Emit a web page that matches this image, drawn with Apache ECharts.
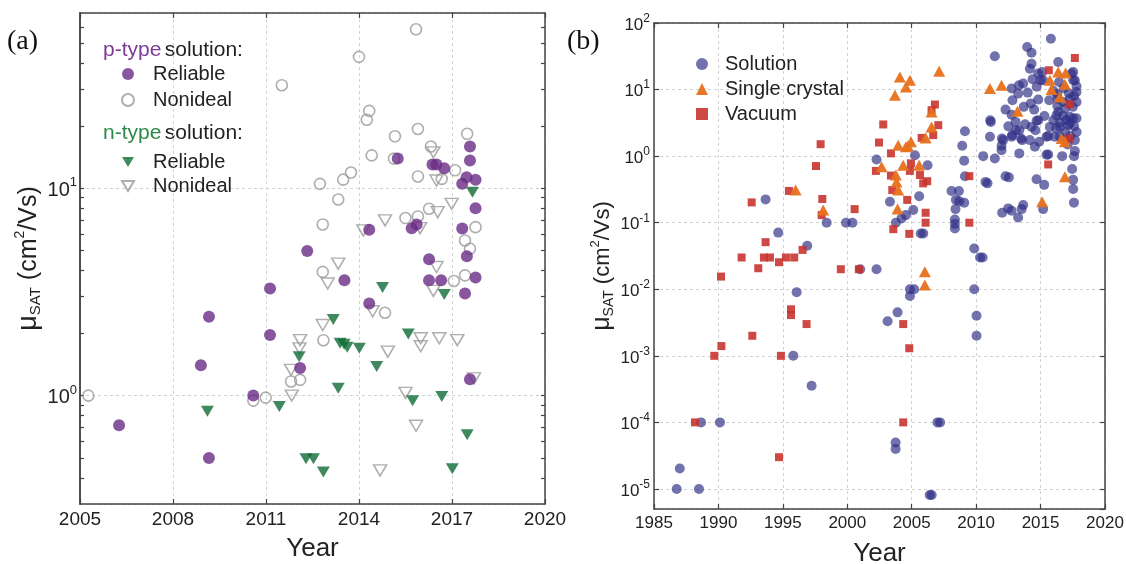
<!DOCTYPE html>
<html><head><meta charset="utf-8">
<script src="https://cdn.jsdelivr.net/npm/echarts@6/dist/echarts.min.js"></script>
<style>html,body{margin:0;padding:0;background:#fff}#c{width:1126px;height:564px}</style>
</head><body><div id="c"></div>
<script>
// ---------- Panel (a) data: [year, mobility cm2/Vs] ----------
const pReliable = [[2006.26,0.72],[2008.9,1.40],[2009.16,2.40],[2009.16,0.50],[2010.59,1.0],[2011.13,3.28],[2011.13,1.96],[2012.1,1.36],[2012.33,4.98],[2013.53,3.6],[2014.33,2.78],[2014.33,6.31],[2015.25,13.9],[2015.7,6.42],[2015.86,6.69],[2016.26,4.55],[2016.26,3.6],[2016.37,13.0],[2016.5,13.0],[2016.65,3.6],[2016.75,12.5],[2017.33,10.5],[2017.33,6.4],[2017.42,3.11],[2017.48,4.7],[2017.47,11.3],[2017.58,15.9],[2017.58,13.6],[2017.58,1.20],[2017.76,11.0],[2017.76,8.0],[2017.76,3.71]];
const pNonideal = [[2005.27,1.0],[2010.59,0.946],[2010.99,0.978],[2011.81,1.17],[2012.1,1.19],[2012.85,1.85],[2012.83,3.95],[2014.84,2.51],[2017.06,3.57],[2017.42,3.8],[2015.84,58.4],[2014.0,43.0],[2011.51,31.4],[2014.33,23.6],[2014.25,21.4],[2015.9,19.3],[2015.16,17.8],[2017.49,18.3],[2016.32,15.9],[2014.41,14.4],[2015.13,13.9],[2013.74,11.9],[2013.49,11.0],[2012.74,10.5],[2017.1,12.2],[2015.9,11.4],[2016.67,11.1],[2013.33,8.83],[2012.83,6.69],[2015.5,7.18],[2015.9,7.31],[2016.26,7.96],[2017.76,6.49],[2017.42,5.6],[2017.58,5.11]];
const nReliable = [[2009.11,0.84],[2011.43,0.885],[2012.07,1.54],[2013.17,2.33],[2013.33,1.085],[2013.39,1.79],[2013.52,1.77],[2013.62,1.71],[2014.01,1.69],[2014.57,1.38],[2014.76,3.32],[2015.59,1.98],[2015.73,0.943],[2016.67,0.99],[2016.75,3.07],[2017.49,0.647],[2017.01,0.444],[2012.29,0.496],[2012.53,0.496],[2012.85,0.428],[2017.66,9.57]];
const nNonideal = [[2016.4,14.9],[2016.5,10.9],[2016.99,8.41],[2016.54,7.67],[2014.84,7.0],[2014.14,6.26],[2015.97,6.42],[2013.33,4.33],[2016.5,4.17],[2012.99,3.47],[2016.4,3.2],[2014.44,2.55],[2012.83,2.19],[2012.1,1.85],[2012.08,1.69],[2011.81,1.33],[2011.83,1.0],[2014.93,1.63],[2015.99,1.89],[2015.99,1.73],[2016.59,1.89],[2017.17,1.85],[2015.5,1.03],[2015.84,0.715],[2014.68,0.436],[2017.71,1.21]];

// ---------- Panel (b) data ----------
const solution = [[1993.66,0.224],[1994.64,0.071],[1996.89,0.045],[1998.4,0.1],[1999.9,0.1],[2000.4,0.1],[1996.07,0.009],[1995.81,0.001],[1997.23,3.56e-4],[1988.65,1e-4],[1990.12,1e-4],[1987.0,2.03e-5],[1986.76,1e-5],[1988.49,1e-5],[2001.0,0.02],[2002.27,0.02],[2004.86,0.01],[2005.19,0.01],[2004.86,0.0079],[2003.9,0.0045],[2003.13,0.0033],[2009.85,0.01],[2010.03,0.004],[2010.03,0.002],[2007.0,1e-4],[2007.2,1e-4],[2003.75,5e-5],[2003.75,4e-5],[2006.4,8.1e-6],[2006.55,8.1e-6],[2010.3,0.030],[2010.5,0.030],[2009.85,0.041],
[2002.27,0.89],[2005.25,1.03],[2006.23,0.73],[2003.31,0.206],[2005.58,0.25],[2005.12,0.155],[2004.55,0.13],[2004.21,0.116],[2003.77,0.1],[2005.7,0.069],[2005.9,0.069],[2009.13,2.37],[2008.92,1.43],[2009.07,0.85],[2009.13,0.5],[2008.09,0.30],[2008.66,0.30],[2008.43,0.22],[2008.69,0.21],[2009.07,0.20],[2008.4,0.16],[2008.35,0.112],[2008.35,0.096],[2008.35,0.082],
[2011.45,31.6],[2013.96,43.5],[2014.3,35.8],[2015.8,58],[2016.37,25.9],[2014.3,24.5],[2014.17,20.6],[2015.12,18.4],[2017.53,18.4],[2014.38,14.3],[2013.65,12.3],[2015.2,13.8],[2016.44,13.0],[2017.66,13.8],[2012.75,10.4],[2013.32,11.6],[2017.79,11.2],[2013.26,8.7],[2012.82,6.9],[2014.25,6.2],[2014.82,7.1],[2015.67,6.9],[2016.32,7.3],[2017.27,7.3],[2017.79,9.2],[2017.79,6.5],[2012.28,5.0],[2012.75,4.2],[2016.24,4.1],[2016.75,4.0],[2017.79,3.7],[2011.14,3.27],[2013.06,3.27],[2014.69,3.4],[2014.3,2.75],[2016.5,3.16],[2017.27,3.1],[2013.35,2.45],[2012.8,2.07],[2011.07,1.95],[2012.1,1.74],[2013.57,1.74],[2014.17,1.74],[2014.9,1.64],[2015.59,2.0],[2016.1,1.95],[2017.66,1.74],[2011.97,1.43],[2011.97,1.23],[2017.66,1.19],[2010.55,1.0],[2011.45,0.92],[2013.35,1.1],[2015.59,1.06],[2016.68,1.0],[2017.45,0.64],[2012.28,0.5],[2012.54,0.48],[2014.69,0.45],[2015.28,0.37],[2017.53,0.44],[2017.53,0.32],[2017.59,0.20],[2010.73,0.41],[2010.88,0.39],[2012.02,0.141],[2012.49,0.164],[2012.75,0.151],[2013.26,0.12],[2013.53,0.16],[2013.65,0.184],[2015.2,0.16],
[2014.82,17.4],[2017.4,17.4],[2017.53,13.8],[2017.27,3.9],[2017.53,3.7],[2016.37,4.6],[2016.0,3.46],[2015.72,2.75],[2016.5,2.75],[2017.14,2.92],[2014.82,3.46],[2014.6,2.45],[2013.1,2.45],[2013.49,1.84],[2012.75,1.95],[2012.0,1.84],[2011.09,3.46],[2015.0,13.8],[2016.76,6.5],[2016.5,1.95],[2015.46,1.95],[2014.56,1.38],[2015.46,1.05],[2016.0,9.5],[2016.3,8.5],[2016.8,10.5],[2017.2,8.8],[2017.6,8.0],[2017.5,5.5],[2016.9,5.2],[2016.3,5.7],[2017.0,3.5],[2017.6,2.8],[2017.8,2.3],[2016.9,2.3],[2016.2,2.6],[2017.3,2.0],[2017.1,1.5],[2017.6,1.0],[2014.0,9.0],[2014.7,11.0],[2013.7,5.5],[2014.5,5.0],[2015.3,4.0],[2013.8,3.0],[2012.5,2.8]];
const singleCrystal = [[1995.99,0.31],[1998.13,0.155],[2006.02,0.0184],[2006.02,0.0116],[2004.08,15.5],[2004.86,13.8],[2004.55,10.9],[2003.7,8.2],[2007.13,18.8],[2006.54,4.6],[2006.54,2.75],[2006.08,1.88],[2004.94,1.64],[2003.95,1.46],[2004.55,1.38],[2004.7,1.42],[2002.66,0.69],[2004.34,0.73],[2005.58,0.73],[2003.77,0.52],[2003.82,0.41],[2003.95,0.31],[2003.9,0.16],[2011.07,10.4],[2011.97,11.6],[2013.21,4.73],[2016.37,18.4],[2016.94,17.7],[2015.72,13.8],[2016.89,12.0],[2015.85,10],[2016.5,7.75],[2016.63,1.84],[2016.89,1.64],[2016.89,0.49],[2015.12,0.206]];
const vacuum = [[1992.58,0.202],[1995.47,0.30],[1997.93,1.51],[1997.57,0.71],[1998.06,0.227],[1998.01,0.130],[1993.66,0.051],[1991.8,0.030],[1993.53,0.030],[1994.0,0.030],[1995.24,0.030],[1995.88,0.030],[1996.53,0.039],[1994.7,0.0255],[1993.09,0.0207],[1990.2,0.0155],[1999.5,0.02],[2000.9,0.02],[1995.63,0.005],[1995.63,0.0041],[1996.84,0.003],[1992.63,0.002],[1990.23,0.0014],[1989.68,0.001],[1994.85,0.001],[1988.18,0.0001],[1994.7,3e-5],[2004.34,0.003],[2004.81,0.0013],[2004.34,1e-4],
[2017.66,29.8],[2015.64,19.5],[2017.27,6.0],[2017.2,1.84],[2015.59,0.75],[2006.8,5.96],[2006.54,4.9],[2007.06,2.92],[2006.67,2.07],[2005.77,1.88],[2002.79,2.99],[2002.46,1.6],[2003.39,1.1],[2004.94,0.78],[2002.22,0.6],[2004.86,0.6],[2003.39,0.51],[2005.64,0.52],[2006.2,0.42],[2005.89,0.39],[2003.49,0.31],[2004.65,0.22],[2000.57,0.16],[2006.08,0.141],[2006.08,0.1],[2003.57,0.080],[2004.81,0.068],[2009.47,0.50],[2009.47,0.1]];

// ---------- Axis ticks ----------
const aYearTicks = {min: 2005, max: 2020, step: 3};
const bYearTicks = {min: 1985, max: 2020, step: 5};
const aYRange = [0.3, 70];
const bYRange = [5e-6, 100];
const aYMinorTicks = [0.4,0.5,0.6,0.7,0.8,0.9,1,2,3,4,5,6,7,8,9,10,20,30,40,50,60];

const FONT = '"Liberation Sans", Arial, sans-serif';
const SERIF = '"Liberation Serif", "DejaVu Serif", serif';
const AXC = '#444';
const DOWN = 'path://M0,0L20,0L10,17Z';

function logLabel(v){ const e = Math.round(Math.log10(v)); return '{b|10}{s|' + e + '}'; }
function richLab(fs, ss){ return { b:{fontSize:fs, fontFamily:FONT, color:'#222', lineHeight:fs+4, verticalAlign:'bottom'}, s:{fontSize:ss, fontFamily:FONT, color:'#222', verticalAlign:'top'} }; }
const split = {show:true, lineStyle:{color:'#d2d2d2', type:[3,3], width:1}};
const axLine = {show:true, onZero:false, lineStyle:{color:AXC, width:1.5}};

function xAx(grid, r, pos, fs, margin){
  return {type:'value', gridIndex:grid, min:r.min, max:r.max, interval:r.step, position:pos,
    axisLine:axLine, axisTick:{show:true, inside:true, length:5, lineStyle:{color:AXC, width:1.2}},
    axisLabel:{show:pos==='bottom', margin:margin, fontSize:fs, color:'#222', fontFamily:FONT, formatter:v=>String(v)},
    splitLine: pos==='bottom' ? split : {show:false}};
}
function yAx(grid, r, pos, opts){
  return Object.assign({type:'log', logBase:10, gridIndex:grid, min:r[0], max:r[1], position:pos,
    axisLine:axLine, axisTick:{show:true, inside:true, length:5, lineStyle:{color:AXC, width:1.2}},
    axisLabel:{show:false}, splitLine:{show:false}}, opts||{});
}
const minorTicks = {show:true, inside:true, length:4, customValues:aYMinorTicks, lineStyle:{color:AXC, width:1.2}};
const legText = {fontSize:20, fontFamily:FONT, color:'#222', lineHeight:20};

const chart = echarts.init(document.getElementById('c'), null, {renderer:'canvas'});
chart.setOption({
  animation:false,
  backgroundColor:'#fff',
  grid:[{left:80, top:13, width:465, height:491, outerBoundsMode:'none', containLabel:false},
        {left:654, top:23, width:451, height:486, outerBoundsMode:'none', containLabel:false}],
  xAxis:[
    Object.assign(xAx(0, aYearTicks, 'bottom', 19, 6), {name:'Year', nameLocation:'middle', nameGap:32, nameTextStyle:{fontSize:26, fontFamily:FONT, color:'#222'}}),
    xAx(0, aYearTicks, 'top', 19, 6),
    Object.assign(xAx(1, bYearTicks, 'bottom', 17, 6), {name:'Year', nameLocation:'middle', nameGap:32, nameTextStyle:{fontSize:26, fontFamily:FONT, color:'#222'}}),
    xAx(1, bYearTicks, 'top', 17, 5)
  ],
  yAxis:[
    yAx(0, aYRange, 'left', {
      axisTick:{show:false},
      axisLabel:{show:true, margin:3, formatter:logLabel, rich:richLab(20,13), showMinLabel:false, showMaxLabel:false},
      splitLine:split,
      name:'{m|μ}{sub|SAT}{t| (cm}{sup|2}{t|/Vs)}', nameLocation:'middle', nameGap:31,
      nameTextStyle:{rich:{m:{fontSize:27, fontFamily:FONT, color:'#222'}, sub:{fontSize:15, fontFamily:FONT, color:'#222', verticalAlign:'bottom'}, t:{fontSize:25, fontFamily:FONT, color:'#222', lineHeight:30}, sup:{fontSize:14, fontFamily:FONT, color:'#222', verticalAlign:'top'}}}
    }),
    yAx(0, aYRange, 'right', {axisTick:minorTicks}),
    yAx(1, bYRange, 'left', {
      axisLabel:{show:true, margin:4, formatter:logLabel, rich:richLab(17,12), showMinLabel:false, showMaxLabel:true},
      splitLine:split,
      name:'{m|μ}{sub|SAT}{t| (cm}{sup|2}{t|/Vs)}', nameLocation:'middle', nameGap:34,
      nameTextStyle:{rich:{m:{fontSize:25, fontFamily:FONT, color:'#222'}, sub:{fontSize:14, fontFamily:FONT, color:'#222', verticalAlign:'bottom'}, t:{fontSize:22, fontFamily:FONT, color:'#222', lineHeight:28}, sup:{fontSize:13, fontFamily:FONT, color:'#222', verticalAlign:'top'}}}
    }),
    yAx(1, bYRange, 'right'),
    yAx(0, aYRange, 'left', {axisTick:minorTicks})
  ],
  legend:[
    {data:['p|Reliable','p|Nonideal'], orient:'vertical', left:116, top:59, itemWidth:12, itemHeight:12, itemGap:6, selectedMode:false, symbolKeepAspect:true,
     formatter:n=>n.slice(2), textStyle:Object.assign({padding:[0,0,0,14]}, legText)},
    {data:['n|Reliable','n|Nonideal'], orient:'vertical', left:116, top:147, itemWidth:12, itemHeight:12, itemGap:4, selectedMode:false, symbolKeepAspect:true,
     formatter:n=>n.slice(2), textStyle:Object.assign({padding:[0,0,0,14]}, legText)},
    {data:['Solution','Single crystal','Vacuum'], orient:'vertical', left:691, top:49, itemWidth:12, itemHeight:12, itemGap:5, selectedMode:false, symbolKeepAspect:true,
     textStyle:Object.assign({padding:[0,0,0,12]}, legText)}
  ],
  graphic:[
    {type:'text', left:7, top:28, style:{text:'(a)', fontSize:28, fontFamily:SERIF, fill:'#111'}},
    {type:'text', left:567, top:28, style:{text:'(b)', fontSize:28, fontFamily:SERIF, fill:'#111'}},
    {type:'text', left:103, top:40, style:{text:'{p|p-type} {k|solution:}', rich:{p:{fill:'#7b3a96', fontSize:21, fontFamily:FONT}, k:{fill:'#222', fontSize:21, fontFamily:FONT}}}},
    {type:'text', left:103, top:123, style:{text:'{p|n-type} {k|solution:}', rich:{p:{fill:'#2b8a49', fontSize:21, fontFamily:FONT}, k:{fill:'#222', fontSize:21, fontFamily:FONT}}}}
  ],
  series:[
    {name:'p|Nonideal', type:'scatter', xAxisIndex:0, yAxisIndex:0, data:pNonideal, symbol:'circle', symbolSize:11,
     itemStyle:{color:'rgba(255,255,255,0)', borderColor:'#9a9a9a', borderWidth:1.6}, emphasis:{disabled:true}},
    {name:'n|Nonideal', type:'scatter', xAxisIndex:0, yAxisIndex:0, data:nNonideal, symbol:DOWN, symbolSize:[13,11],
     itemStyle:{color:'rgba(255,255,255,0)', borderColor:'#9a9a9a', borderWidth:1.5}, emphasis:{disabled:true}},
    {name:'n|Reliable', type:'scatter', xAxisIndex:0, yAxisIndex:0, data:nReliable, symbol:DOWN, symbolSize:[13,11],
     itemStyle:{color:'#0f6b36'}, emphasis:{disabled:true}},
    {name:'p|Reliable', type:'scatter', xAxisIndex:0, yAxisIndex:0, data:pReliable, symbol:'circle', symbolSize:12,
     itemStyle:{color:'#6a2c86'}, emphasis:{disabled:true}},
    {name:'Solution', type:'scatter', xAxisIndex:2, yAxisIndex:2, data:solution, symbol:'circle', symbolSize:10,
     itemStyle:{color:'#2f2f86', opacity:0.68}, emphasis:{disabled:true}},
    {name:'Vacuum', type:'scatter', xAxisIndex:2, yAxisIndex:2, data:vacuum, symbol:'rect', symbolSize:8, symbolKeepAspect:true,
     itemStyle:{color:'#c8302a', opacity:0.88}, emphasis:{disabled:true}},
    {name:'Single crystal', type:'scatter', xAxisIndex:2, yAxisIndex:2, data:singleCrystal, symbol:'triangle', symbolSize:[12,11], symbolKeepAspect:true,
     itemStyle:{color:'#e8701c', opacity:0.95}, emphasis:{disabled:true}}
  ]
});
</script></body></html>
